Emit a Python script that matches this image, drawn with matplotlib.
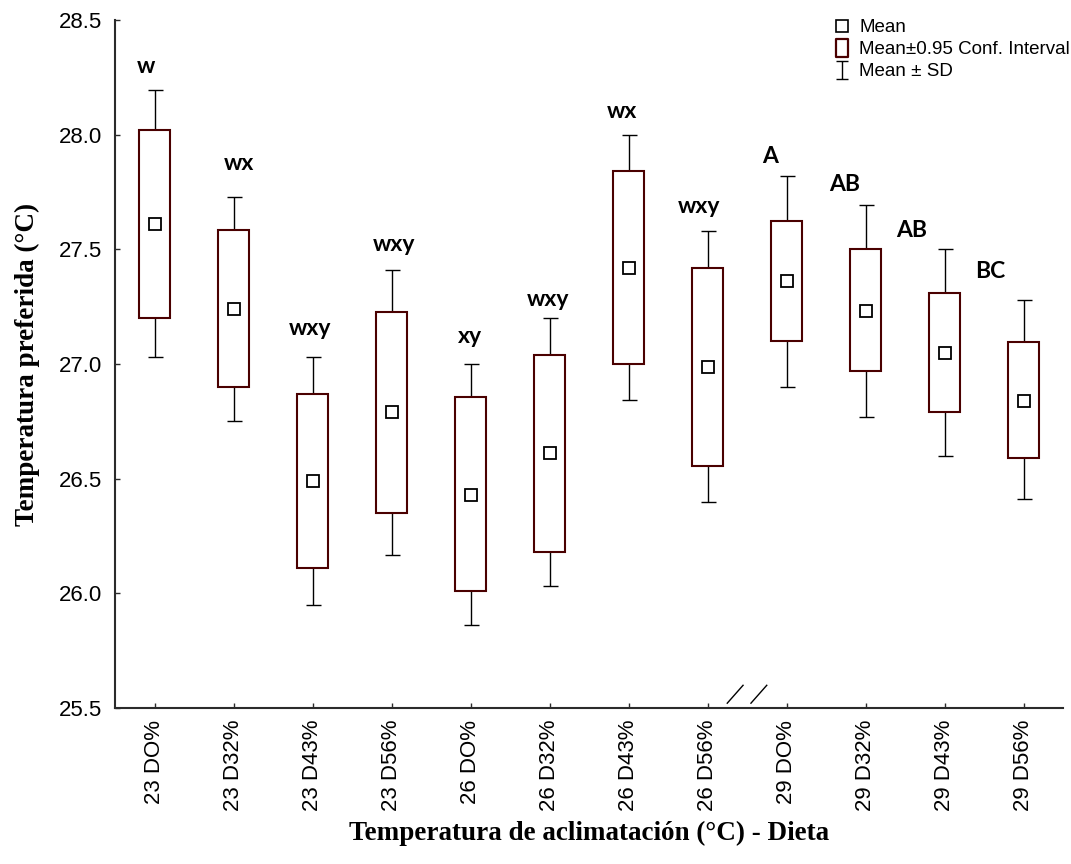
import numpy as np
import matplotlib
matplotlib.use("Agg")
import matplotlib.pyplot as plt
from matplotlib.lines import Line2D
from matplotlib.path import Path
import matplotlib.transforms as mtransforms

# Data
groups = ["23 DO%", "23 D32%", "23 D43%", "23 D56%",
          "26 DO%", "26 D32%", "26 D43%", "26 D56%",
          "29 DO%", "29 D32%", "29 D43%", "29 D56%"]
mean = [27.61, 27.24, 26.49, 26.79, 26.43, 26.61, 27.42, 26.985, 27.36, 27.23, 27.05, 26.84]
ci_low = [27.20, 26.90, 26.11, 26.35, 26.01, 26.18, 27.00, 26.555, 27.10, 26.97, 26.79, 26.59]
ci_high = [28.02, 27.585, 26.87, 27.225, 26.855, 27.04, 27.84, 27.42, 27.625, 27.50, 27.31, 27.095]
sd_low = [27.03, 26.75, 25.95, 26.165, 25.86, 26.03, 26.845, 26.40, 26.90, 26.77, 26.60, 26.41]
sd_high = [28.195, 27.73, 27.03, 27.41, 27.00, 27.20, 28.00, 27.58, 27.82, 27.695, 27.50, 27.28]
letters = ["w", "wx", "wxy", "wxy", "xy", "wxy", "wx", "wxy", "A", "AB", "AB", "BC"]

# hand placement of the letters (points, relative to top of SD bar)
letter_dx = [-6, 4, -2, 2, 0, -1, -5, -6, -12, -15, -24, -24]
letter_dy = [12, 19, 16, 14, 15, 9, 12, 13, 9, 10, 9, 16]

MAROON = "#4a0000"
SPINE = "#2b2b2b"

fig = plt.figure(figsize=(10.71, 8.64), dpi=100)
ax = fig.add_axes([115 / 1071, 156 / 864, 948 / 1071, 688 / 864])

x = np.arange(len(groups))
mean_a = np.array(mean)
lo = np.array(ci_low); hi = np.array(ci_high)
sdl = np.array(sd_low); sdh = np.array(sd_high)

ax.errorbar(x, mean_a, yerr=[mean_a - sdl, sdh - mean_a], fmt="none",
            ecolor="black", elinewidth=1.0, capsize=5.4, capthick=1.0, zorder=2)
ax.bar(x, hi - lo, bottom=lo, width=0.38, facecolor="white",
       edgecolor=MAROON, linewidth=1.5, zorder=3)
ax.plot(x, mean_a, ls="none", marker="s", ms=8, mfc="white", mec="black",
        mew=1.3, zorder=4)

for i, lab in enumerate(letters):
    ax.annotate(lab, (x[i], sdh[i]), xytext=(letter_dx[i], letter_dy[i]),
                textcoords="offset points", ha="center", va="baseline",
                fontsize=16.5, fontweight="bold", family="Lato")

# axis break marks between 26 D56% and 29 DO%
trans = mtransforms.blended_transform_factory(ax.transData, ax.transAxes)
mid = (x[7] + x[8]) / 2
for off in (-0.15, 0.15):
    ax.plot([mid + off - 0.1, mid + off + 0.1], [0.007, 0.033], color="black",
            lw=1.0, transform=trans, clip_on=False, zorder=5)

ax.set_xlim(-0.5, len(groups) - 0.5)
ax.set_ylim(25.5, 28.5)
ax.set_yticks(np.arange(25.5, 28.51, 0.5))
ax.set_yticklabels([f"{v:.1f}" for v in np.arange(25.5, 28.51, 0.5)])
ax.set_xticks(x)
ax.set_xticklabels(groups, rotation=90)

for s in ("top", "right"):
    ax.spines[s].set_visible(False)
for s in ("left", "bottom"):
    ax.spines[s].set_color(SPINE)
    ax.spines[s].set_linewidth(1.5)

ax.tick_params(axis="both", direction="in", length=3.6, width=1.0, color=SPINE,
               labelsize=16)
ax.tick_params(axis="y", pad=9.4)
ax.tick_params(axis="x", pad=8.6)
for t in ax.get_xticklabels() + ax.get_yticklabels():
    t.set_family("Liberation Sans")

ax.set_xlabel("Temperatura de aclimatación (°C) - Dieta", family="Liberation Serif",
              fontweight="bold", fontsize=19.5)
ax.set_ylabel("Temperatura preferida (°C)", family="Liberation Serif",
              fontweight="bold", fontsize=19.5)
ax.xaxis.set_label_coords(0.5, (708 - 821) / 688)
ax.yaxis.set_label_coords((40 - 115) / 948, 0.5)

# legend
rect_marker = Path([(-0.32, -0.5), (0.32, -0.5), (0.32, 0.5), (-0.32, 0.5), (-0.32, -0.5)],
                   [Path.MOVETO, Path.LINETO, Path.LINETO, Path.LINETO, Path.CLOSEPOLY])
ibar_marker = Path([(-0.35, 0.5), (0.35, 0.5), (0, 0.5), (0, -0.5), (-0.35, -0.5), (0.35, -0.5)],
                   [Path.MOVETO, Path.LINETO, Path.MOVETO, Path.LINETO, Path.MOVETO, Path.LINETO])
handles = [
    Line2D([], [], ls="none", marker="s", ms=8, mfc="white", mec="black", mew=1.2),
    Line2D([], [], ls="none", marker=rect_marker, ms=12.5, mfc="white", mec=MAROON, mew=1.6),
    Line2D([], [], ls="none", marker=ibar_marker, ms=12.5, mfc="none", mec="black", mew=1.0),
]
labels = ["Mean", "Mean±0.95 Conf. Interval", "Mean ± SD"]
ax.legend(handles, labels, loc="upper left", bbox_to_anchor=(834 / 1071, 1 - 19 / 864),
          bbox_transform=fig.transFigure, frameon=False, numpoints=1,
          prop={"family": "Liberation Sans", "size": 13.5},
          handlelength=0.9, handletextpad=0.45, labelspacing=0.27,
          borderpad=0, borderaxespad=0)

fig.savefig("out.png", dpi=100)
